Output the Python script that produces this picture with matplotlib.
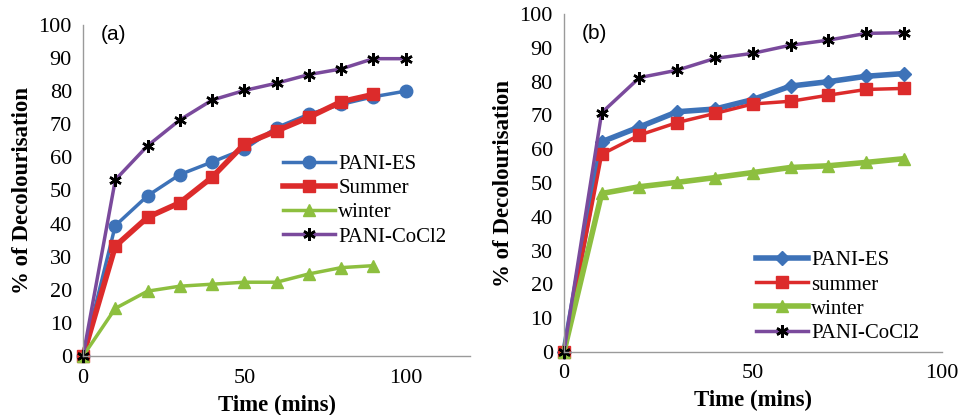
import matplotlib
matplotlib.use("Agg")
import matplotlib.pyplot as plt

# panel (a)
time_a = [0, 10, 20, 30, 40, 50, 60, 70, 80, 90, 100]
time_a_short = [0, 10, 20, 30, 40, 50, 60, 70, 80, 90]
pani_es_a = [0, 39.4, 48.4, 54.8, 58.6, 62.5, 69.0, 73.0, 76.0, 78.3, 80.0]
summer_a = [0, 33.2, 41.9, 46.3, 54.0, 64.0, 68.0, 72.1, 76.8, 79.0]
winter_a = [0, 14.4, 19.6, 21.1, 21.7, 22.3, 22.3, 24.8, 26.7, 27.3]
cocl2_a = [0, 53.2, 63.5, 71.3, 77.3, 80.2, 82.4, 85.0, 86.7, 89.8, 89.8]

# panel (b)
time_b = [0, 10, 20, 30, 40, 50, 60, 70, 80, 90]
pani_es_b = [0, 62.2, 66.6, 71.1, 71.9, 74.7, 78.7, 80.0, 81.6, 82.4]
summer_b = [0, 58.5, 64.2, 67.9, 70.6, 73.4, 74.2, 76.0, 77.7, 78.0]
winter_b = [0, 46.9, 48.9, 50.2, 51.6, 53.1, 54.6, 55.1, 56.1, 57.2]
cocl2_b = [0, 70.8, 81.2, 83.4, 86.9, 88.4, 90.8, 92.3, 94.3, 94.5]

BLUE = "#3d72b8"
RED = "#dc2b2b"
GREEN = "#8dbf3f"
PURPLE = "#7a4a9c"
SERIF = "Liberation Serif"

plt.rcParams["font.family"] = SERIF

fig = plt.figure(figsize=(9.59, 4.15), dpi=100)
ax_a = fig.add_axes([0.0866, 0.142, 0.4036, 0.798])
ax_b = fig.add_axes([0.588, 0.152, 0.394, 0.814])


def style_axes(ax, xmax):
    ax.set_xlim(0, xmax)
    ax.set_ylim(0, 100)
    ax.set_xticks([0, 50, 100])
    ax.set_yticks(range(0, 101, 10))
    for side in ["top", "right"]:
        ax.spines[side].set_visible(False)
    for side in ["left", "bottom"]:
        ax.spines[side].set_color("#9a9a9a")
        ax.spines[side].set_linewidth(1.0)
    ax.tick_params(length=0, labelsize=16)
    ax.tick_params(axis="x", pad=9)
    ax.tick_params(axis="y", pad=8)
    ax.set_xlabel("Time (mins)", fontsize=16.5, fontweight="bold", labelpad=5)
    ax.set_ylabel("% of Decolourisation", fontsize=16.5, fontweight="bold", labelpad=4)


star = (6, 2, 0)
leg_kw = dict(loc="upper left", frameon=False, fontsize=15, handlelength=2.5,
              handletextpad=0.15, labelspacing=0.22, borderpad=0)

# (a)
ax_a.plot(time_a, pani_es_a, color=BLUE, lw=2.5, marker="o", ms=9, label="PANI-ES", clip_on=False)
ax_a.plot(time_a_short, summer_a, color=RED, lw=4, marker="s", ms=9, label="Summer", clip_on=False)
ax_a.plot(time_a_short, winter_a, color=GREEN, lw=2.5, marker="^", ms=9, label="winter", clip_on=False)
ax_a.plot(time_a, cocl2_a, color=PURPLE, lw=2.5, marker=star, ms=9, mec="black", mew=1.8,
          label="PANI-CoCl2", clip_on=False)
style_axes(ax_a, 120)
ax_a.text(0.045, 1.0, "(a)", transform=ax_a.transAxes, fontsize=15,
          family="Liberation Sans", va="top")
ax_a.legend(bbox_to_anchor=(0.49, 0.64), **leg_kw)

# (b)
ax_b.plot(time_b, pani_es_b, color=BLUE, lw=4, marker="D", ms=7, label="PANI-ES", clip_on=False)
ax_b.plot(time_b, summer_b, color=RED, lw=2.5, marker="s", ms=9, label="summer", clip_on=False)
ax_b.plot(time_b, winter_b, color=GREEN, lw=4, marker="^", ms=9, label="winter", clip_on=False)
ax_b.plot(time_b, cocl2_b, color=PURPLE, lw=2.5, marker=star, ms=9, mec="black", mew=1.8,
          label="PANI-CoCl2", clip_on=False)
style_axes(ax_b, 100)
ax_b.text(0.048, 0.97, "(b)", transform=ax_b.transAxes, fontsize=15,
          family="Liberation Sans", va="top")
ax_b.legend(bbox_to_anchor=(0.48, 0.33), **leg_kw)

fig.savefig("out.png", dpi=100)
